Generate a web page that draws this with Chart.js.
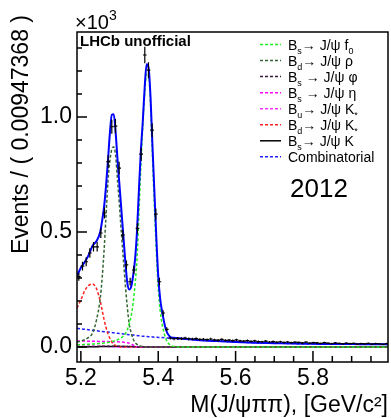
<!DOCTYPE html>
<html>
<head>
<meta charset="utf-8">
<script src="https://cdn.jsdelivr.net/npm/chart.js@4"></script>
<style>
  html, body { margin: 0; padding: 0; background: #fff; }
</style>
</head>
<body>
<canvas id="chart" width="391" height="418"></canvas>
<script>
// Histogram: bins of 0.00947368 GeV starting at 5.19
const binLo = 5.19;
const binWidth = 0.00947368;
const counts = [306, 352, 371, 409, 436, 436, 496, 583, 806, 958, 961, 778, 487, 357, 284, 335,
  516, 839, 1270, 1204, 943, 578, 284, 148, 77, 39,
  36, 38, 37, 39, 36, 35, 37, 33, 34, 32,
  35, 31, 30, 33, 29, 30, 28, 31, 27, 26,
  28, 25, 27, 24, 23, 26, 22, 24, 21, 23,
  20, 22, 19, 21, 20, 18, 21, 17, 19, 18,
  16, 19, 17, 15, 18, 16, 14, 17, 15, 16,
  13, 15, 14, 16, 13, 15, 14, 12, 15];

// Fit curves, sampled at these masses (GeV)
const curveX = [5.190, 5.200, 5.210, 5.220, 5.230, 5.240, 5.250, 5.255, 5.260, 5.265,
  5.270, 5.275, 5.280, 5.285, 5.290, 5.295, 5.300, 5.305, 5.310, 5.315,
  5.320, 5.325, 5.330, 5.335, 5.340, 5.345, 5.350, 5.355, 5.360, 5.365,
  5.370, 5.375, 5.380, 5.385, 5.390, 5.395, 5.400, 5.405, 5.410, 5.420,
  5.430, 5.440, 5.460, 5.500, 5.550, 5.600, 5.650, 5.700, 5.750, 5.800,
  5.850, 5.900, 5.950, 5.994];

const total = [310, 345, 370, 400, 440, 460, 500, 550, 610, 700,
  810, 930, 1010, 1012, 930, 810, 700, 590, 480, 370,
  280, 250, 262, 310, 380, 500, 680, 850, 980, 1130,
  1230, 1215, 1090, 880, 680, 480, 310, 210, 155, 75,
  45, 40, 37, 31, 26, 22, 19, 17, 15, 14,
  13, 13, 12, 12];

const bsF0 = [10, 10, 11, 12, 13, 14, 16, 17, 18, 19,
  20, 22, 24, 26, 29, 32, 36, 41, 48, 58,
  75, 100, 135, 190, 270, 380, 580, 780, 960, 1100,
  1190, 1185, 1060, 830, 620, 420, 260, 160, 100, 35,
  10, 3, 0, 0, 0, 0, 0, 0, 0, 0,
  0, 0, 0, 0];

const bdRho = [22, 26, 32, 42, 60, 115, 210, 300, 420, 570,
  720, 810, 860, 870, 830, 720, 610, 490, 380, 270,
  175, 100, 62, 36, 20, 12, 7, 4, 2, 1,
  0, 0, 0, 0, 0, 0, 0, 0, 0, 0,
  0, 0, 0, 0, 0, 0, 0, 0, 0, 0,
  0, 0, 0, 0];

const bsPhi = [1, 1, 1, 2, 2, 2, 3, 3, 3, 4,
  4, 4, 4, 4, 4, 3, 3, 3, 2, 2,
  2, 1, 1, 1, 1, 0, 0, 0, 0, 0,
  0, 0, 0, 0, 0, 0, 0, 0, 0, 0,
  0, 0, 0, 0, 0, 0, 0, 0, 0, 0,
  0, 0, 0, 0];

const bsEta = [26, 26, 26, 25, 25, 25, 24, 24, 24, 24,
  24, 23, 23, 23, 23, 23, 22, 22, 21, 20,
  19, 17, 14, 9, 4, 1, 0, 0, 0, 0,
  0, 0, 0, 0, 0, 0, 0, 0, 0, 0,
  0, 0, 0, 0, 0, 0, 0, 0, 0, 0,
  0, 0, 0, 0];

const buKst = [5, 5, 4, 4, 4, 3, 3, 3, 2, 2,
  2, 1, 1, 1, 0, 0, 0, 0, 0, 0,
  0, 0, 0, 0, 0, 0, 0, 0, 0, 0,
  0, 0, 0, 0, 0, 0, 0, 0, 0, 0,
  0, 0, 0, 0, 0, 0, 0, 0, 0, 0,
  0, 0, 0, 0];

const bdKst = [170, 205, 245, 268, 274, 255, 200, 160, 120, 85,
  58, 38, 22, 12, 6, 3, 1, 0, 0, 0,
  0, 0, 0, 0, 0, 0, 0, 0, 0, 0,
  0, 0, 0, 0, 0, 0, 0, 0, 0, 0,
  0, 0, 0, 0, 0, 0, 0, 0, 0, 0,
  0, 0, 0, 0];

const bsK = [1, 1, 1, 1, 1, 1, 2, 2, 2, 2,
  2, 2, 2, 2, 2, 2, 2, 2, 2, 2,
  2, 2, 2, 2, 1, 1, 1, 1, 1, 1,
  1, 1, 1, 1, 1, 1, 1, 1, 1, 1,
  1, 1, 1, 1, 1, 1, 1, 1, 1, 1,
  1, 1, 1, 1];

const combinatorial = [81, 79, 77, 75, 73, 71, 69, 68, 67, 66,
  65, 64, 63, 62, 61, 60, 59, 58, 57, 56,
  55, 54, 53, 52, 51, 50, 49, 48, 47, 47,
  46, 45, 45, 44, 43, 43, 42, 41, 41, 40,
  38, 37, 35, 31, 26, 22, 19, 17, 15, 14,
  13, 12.5, 12, 11.5];

const xTicks = [5.2, 5.4, 5.6, 5.8];
const yTicks = [0, 500, 1000];

const FONT = '"Liberation Sans", Arial, Helvetica, sans-serif';

// legend rows: text pieces [text, 'sub'?]
const components = [
  { label: [['B'], ['s', 'sub'], ['\u2192 J/\u03c8 f'], ['0', 'sub']], data: bsF0, color: '#22ee22', dash: [3, 2] },
  { label: [['B'], ['d', 'sub'], ['\u2192 J/\u03c8 \u03c1']], data: bdRho, color: '#336633', dash: [3, 2] },
  { label: [['B'], ['s', 'sub'], [' \u2192 J/\u03c8 \u03c6']], data: bsPhi, color: '#3a1a3a', dash: [3, 2] },
  { label: [['B'], ['s', 'sub'], [' \u2192 J/\u03c8 \u03b7']], data: bsEta, color: '#ff00ff', dash: [3, 2] },
  { label: [['B'], ['u', 'sub'], ['\u2192 J/\u03c8 K'], ['*', 'sub']], data: buKst, color: '#ff33ff', dash: [3, 2] },
  { label: [['B'], ['d', 'sub'], ['\u2192 J/\u03c8 K'], ['*', 'sub']], data: bdKst, color: '#ff2020', dash: [3, 2] },
  { label: [['B'], ['s', 'sub'], ['\u2192 J/\u03c8 K']], data: bsK, color: '#000000', dash: [] },
  { label: [['Combinatorial']], data: combinatorial, color: '#2020ff', dash: [3, 2] },
];

const toXY = (ys) => curveX.map((x, i) => ({ x, y: ys[i] }));

// lower order is drawn on top; the total fit goes over the components
const datasets = components.map((c, i) => ({
  label: c.label.map((p) => p[0]).join(''),
  data: toXY(c.data),
  showLine: true,
  borderColor: c.color,
  borderWidth: 1.5,
  borderDash: c.dash,
  pointRadius: 0,
  cubicInterpolationMode: 'monotone',
  order: i + 1,
}));
datasets.push({
  label: 'Total',
  data: toXY(total),
  showLine: true,
  borderColor: '#0000ff',
  borderWidth: 2,
  pointRadius: 0,
  cubicInterpolationMode: 'monotone',
  order: 0,
});

function drawRich(ctx, parts, x, y, size) {
  parts.forEach(([text, kind]) => {
    if (kind === 'sub') {
      ctx.font = `${Math.round(size * 0.65)}px ${FONT}`;
      ctx.fillText(text, x, y + size * 0.3);
    } else if (kind === 'sup') {
      ctx.font = `${Math.round(size * 0.65)}px ${FONT}`;
      ctx.fillText(text, x, y - size * 0.45);
    } else {
      ctx.font = `${size}px ${FONT}`;
      ctx.fillText(text, x, y);
    }
    x += ctx.measureText(text).width;
  });
}

// frame, inward ticks, data points with errors, texts, legend
const rootStyle = {
  id: 'rootStyle',
  afterDatasetsDraw(chart) {
    const { ctx, chartArea: a, scales: { x, y } } = chart;
    ctx.save();

    // data points
    ctx.strokeStyle = '#000';
    ctx.lineWidth = 1.2;
    ctx.beginPath();
    counts.forEach((n, i) => {
      const lo = binLo + i * binWidth;
      const m = lo + binWidth / 2;
      const err = Math.sqrt(n);
      const px = x.getPixelForValue(m);
      const py = y.getPixelForValue(n);
      ctx.moveTo(x.getPixelForValue(lo), py);
      ctx.lineTo(Math.min(x.getPixelForValue(lo + binWidth), a.right), py);
      ctx.moveTo(px, y.getPixelForValue(n - err));
      ctx.lineTo(px, y.getPixelForValue(n + err));
    });
    ctx.stroke();

    // frame
    ctx.lineWidth = 1.5;
    ctx.strokeRect(a.left, a.top, a.right - a.left, a.bottom - a.top);

    // ticks
    ctx.beginPath();
    for (let v = 0; v <= 1300; v += 100) {
      const py = y.getPixelForValue(v);
      const len = v % 500 === 0 ? 10 : 5;
      ctx.moveTo(a.left, py);
      ctx.lineTo(a.left + len, py);
    }
    for (let k = 0; k <= 15; k++) {
      const v = 5.2 + k * 0.05;
      const px = x.getPixelForValue(v);
      const len = k % 4 === 0 ? 11 : 6;
      ctx.moveTo(px, a.bottom);
      ctx.lineTo(px, a.bottom - len);
    }
    ctx.stroke();
    ctx.restore();
  },
  afterDraw(chart) {
    const { ctx, chartArea: a } = chart;
    ctx.save();
    ctx.fillStyle = '#000';
    ctx.textBaseline = 'alphabetic';

    // exponent
    ctx.font = `20px ${FONT}`;
    ctx.fillText('\u00d710', a.left - 2, 29);
    const w = ctx.measureText('\u00d710').width;
    ctx.font = `14px ${FONT}`;
    ctx.fillText('3', a.left - 2 + w, 20);

    // LHCb
    ctx.font = `bold 15px ${FONT}`;
    ctx.fillText('LHCb unofficial', a.left + 3, 46);

    // axis titles
    ctx.font = `23px ${FONT}`;
    ctx.textAlign = 'right';
    ctx.fillText('M(J/\u03c8\u03c0\u03c0), [GeV/c\u00b2]', a.right, 412);
    ctx.save();
    ctx.translate(28, 15);
    ctx.rotate(-Math.PI / 2);
    ctx.fillText('Events / ( 0.00947368 )', 0, 0);
    ctx.restore();
    ctx.textAlign = 'left';

    // legend
    components.forEach((c, i) => {
      const cy = 44.5 + i * 16.05;
      ctx.strokeStyle = c.color;
      ctx.lineWidth = 1.5;
      ctx.setLineDash(c.dash);
      ctx.beginPath();
      ctx.moveTo(260, cy);
      ctx.lineTo(281, cy);
      ctx.stroke();
      ctx.setLineDash([]);
      drawRich(ctx, c.label, 288, cy + 5, 14);
    });

    ctx.font = `26px ${FONT}`;
    ctx.fillText('2012', 290, 197);
    ctx.restore();
  },
};

new Chart(document.getElementById('chart'), {
  type: 'scatter',
  data: { datasets },
  options: {
    responsive: false,
    animation: false,
    events: [],
    layout: { padding: { top: 32, right: 3, left: 0, bottom: 0 }, autoPadding: false },
    plugins: { legend: { display: false }, tooltip: { enabled: false } },
    scales: {
      x: {
        type: 'linear',
        min: 5.19,
        max: 5.994,
        afterBuildTicks: (s) => { s.ticks = xTicks.map((value) => ({ value })); },
        afterFit: (s) => { s.height = 56; },
        grid: { display: false, drawTicks: false },
        border: { display: false },
        ticks: {
          color: '#000',
          font: { family: FONT, size: 23 },
          padding: 3,
          maxRotation: 0,
          autoSkip: false,
          callback: (v) => v.toFixed(1),
        },
      },
      y: {
        min: -65,
        max: 1370,
        afterBuildTicks: (s) => { s.ticks = yTicks.map((value) => ({ value })); },
        afterFit: (s) => { s.width = 77; },
        grid: { display: false, drawTicks: false },
        border: { display: false },
        ticks: {
          color: '#000',
          font: { family: FONT, size: 23 },
          padding: 5,
          autoSkip: false,
          callback: (v) => (v / 1000).toFixed(1),
        },
      },
    },
  },
  plugins: [rootStyle],
});
</script>
</body>
</html>
